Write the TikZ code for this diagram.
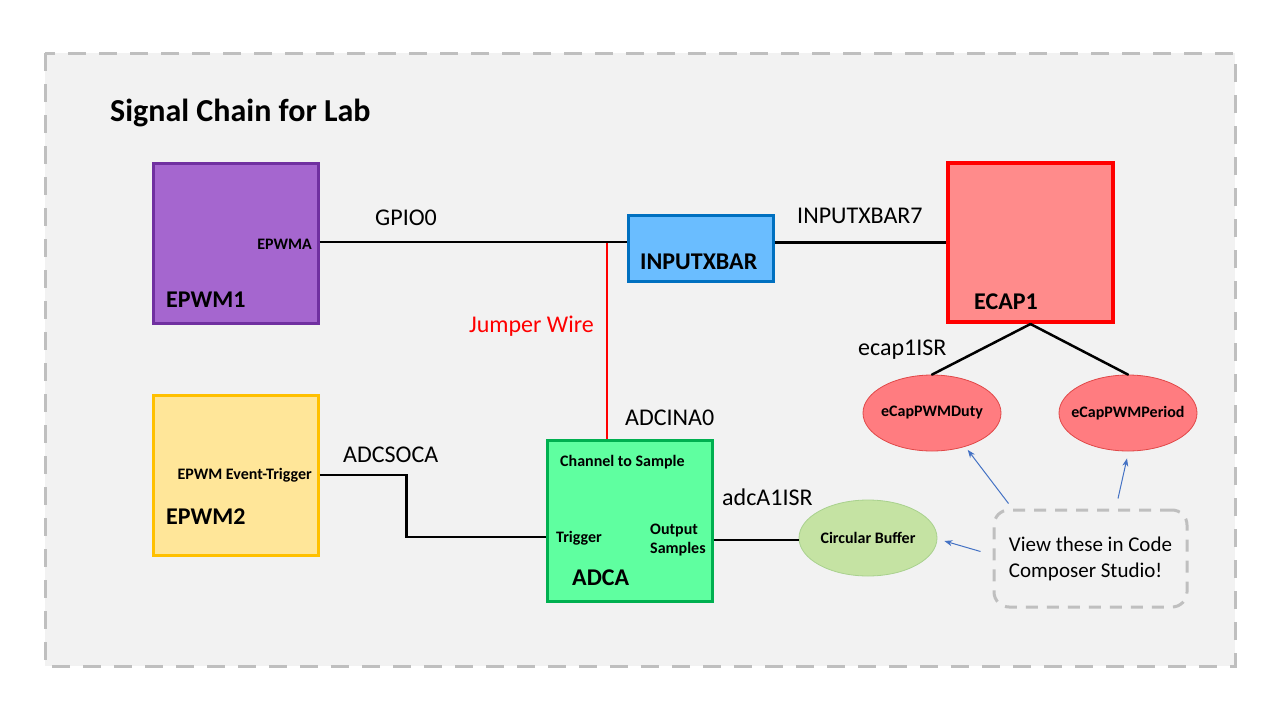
\documentclass[tikz,border=0pt]{standalone}
\usepackage{fontspec}
\setmainfont{Carlito}
\usetikzlibrary{shapes.geometric,arrows.meta}
\definecolor{bgfill}{HTML}{F2F2F2}
\definecolor{dashgray}{HTML}{BFBFBF}
\definecolor{pwmfill}{HTML}{A566CF}
\definecolor{pwmline}{HTML}{7030A0}
\definecolor{xbarfill}{HTML}{6ABDFF}
\definecolor{xbarline}{HTML}{0070C0}
\definecolor{capfill}{HTML}{FF8B8B}
\definecolor{capline}{HTML}{FF0000}
\definecolor{pwm2fill}{HTML}{FFE699}
\definecolor{pwm2line}{HTML}{FFC000}
\definecolor{adcfill}{HTML}{5FFFA0}
\definecolor{adcline}{HTML}{00B050}
\definecolor{ellfill}{HTML}{FF7C80}
\definecolor{ellline}{HTML}{E04848}
\definecolor{cbfill}{HTML}{C5E3A3}
\definecolor{cbline}{HTML}{A9D18E}
\definecolor{arrblue}{HTML}{4472C4}
\tikzset{
  blockbox/.style={draw, line width=3pt, minimum width=165pt, minimum height=160pt, inner sep=0pt},
  ellnode/.style={ellipse, draw, line width=0.8pt, minimum width=138pt, minimum height=76pt, inner sep=0pt,
    font=\fontsize{16}{18}\selectfont\bfseries},
  lbl/.style={anchor=base west, inner sep=0pt, font=\fontsize{24}{28}\selectfont},
  biglbl/.style={anchor=base west, inner sep=0pt, font=\fontsize{24}{28}\selectfont\bfseries},
  smalllbl/.style={anchor=base west, inner sep=0pt, font=\fontsize{16}{18}\selectfont\bfseries},
  wire/.style={line width=2.5pt, black},
  viewarrow/.style={line width=1pt, arrblue, -{Stealth[length=8pt,width=6pt]}},
}
\begin{document}
\begin{tikzpicture}[x=1pt,y=-1pt]
\useasboundingbox (0,0) rectangle (1280,720);
\fill[white] (0,0) rectangle (1280,720);
\draw[fill=bgfill, draw=dashgray, line width=3pt, dash pattern=on 18pt off 13pt] (45,53) rectangle (1235,666);

\node[anchor=base west, inner sep=0pt, font=\fontsize{32}{36}\selectfont\bfseries] (title) at (110,121) {Signal Chain for Lab};

% blocks
\node[blockbox, fill=pwmfill, draw=pwmline] (epwm1) at (235.5,243) {};
\node[blockbox, fill=xbarfill, draw=xbarline, minimum width=145pt, minimum height=66pt] (ixbar) at (700.5,248) {};
\node[blockbox, fill=capfill, draw=capline, line width=4pt, minimum height=159pt] (ecap) at (1030.5,242.5) {};
\node[blockbox, fill=pwm2fill, draw=pwm2line] (epwm2) at (235.5,475) {};
\node[blockbox, fill=adcfill, draw=adcline, minimum height=161pt] (adca) at (629.5,520.5) {};

% block texts
\node[smalllbl, anchor=base east] (tepwma) at (312,249) {EPWMA};
\node[biglbl] (tepwm1) at (166,307) {EPWM1};
\node[biglbl] (tixbar) at (640,269) {INPUTXBAR};
\node[biglbl] (tecap) at (974,309) {ECAP1};
\node[smalllbl, anchor=base east] (tevt) at (312,479) {EPWM Event-Trigger};
\node[biglbl] (tepwm2) at (166,524) {EPWM2};
\node[smalllbl] (tchan) at (560,466) {Channel to Sample};
\node[smalllbl] (ttrig) at (556,542) {Trigger};
\node[smalllbl] (tout) at (650,534) {Output};
\node[smalllbl] (tsamp) at (650,553) {Samples};
\node[biglbl] (tadca) at (572,585) {ADCA};

% ellipses
\node[ellnode, fill=ellfill, draw=ellline] (duty) at (932,413) {\makebox[0pt]{eCapPWMDuty}};
\node[ellnode, fill=ellfill, draw=ellline] (period) at (1128,413) {\makebox[0pt]{eCapPWMPeriod}};
\node[ellnode, fill=cbfill, draw=cbline] (cb) at (868,538) {\makebox[0pt]{Circular Buffer}};

% callout
\node[draw=dashgray, line width=3pt, dash pattern=on 12pt off 9pt, rounded corners=15pt,
  minimum width=193pt, minimum height=97pt, align=left, inner sep=0pt,
  font=\fontsize{21}{26}\selectfont] (callout) at (1090.5,558.5) {View these in Code\\Composer Studio!};

% connector labels
\node[lbl] (lgpio) at (375,225) {GPIO0};
\node[lbl] (lixb7) at (797,223) {INPUTXBAR7};
\node[lbl, text=red] (ljump) at (469,332) {Jumper Wire};
\node[lbl] (lsoc) at (343,462) {ADCSOCA};
\node[lbl] (lisr) at (858,355) {ecap1ISR};
\node[lbl] (lina) at (625,425) {ADCINA0};
\node[lbl] (ladcisr) at (722,505) {adcA1ISR};

% connectors
\coordinate (junc) at (607,242);
\draw[red, line width=2pt] (junc) -- (junc |- adca.north);
\draw[wire] ([yshift=1pt]epwm1.east) -- ([yshift=1pt]epwm1.east -| ixbar.west);
\draw[wire] (ixbar.east |- ecap.west) -- (ecap.west);
\draw[wire] (epwm2.east) -- ++(87,0) |- ([yshift=-16.5pt]adca.west);
\draw[wire] ([yshift=-2pt]cb.west) -- ([yshift=-2pt]cb.west -| adca.east);
\draw[wire, line cap=round] (ecap.south) -- (duty.north);
\draw[wire, line cap=round] (ecap.south) -- (period.north);

% view arrows
\draw[viewarrow] ([xshift=16pt,yshift=5pt]callout.north west) -- ([xshift=3pt,yshift=-3pt]duty.-46);
\draw[viewarrow] ([xshift=27.5pt,yshift=10pt]callout.north) -- ([xshift=-1pt,yshift=-7pt]period.south);
\draw[viewarrow] ([xshift=-12pt,yshift=7pt]callout.west) -- ([xshift=7pt,yshift=-3pt]cb.east);
\end{tikzpicture}
\end{document}
